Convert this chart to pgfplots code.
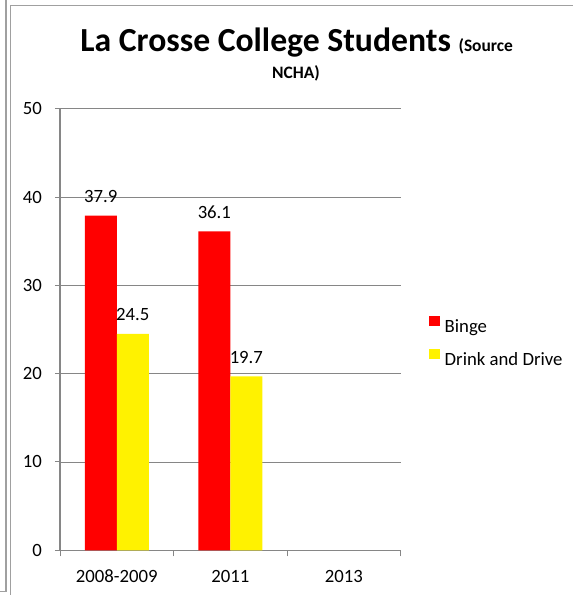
\documentclass[border=0pt]{standalone}
\usepackage{fontspec}
\setmainfont{Carlito}
\usepackage{pgfplots}
\pgfplotsset{compat=1.18}
\definecolor{axisgray}{HTML}{868686}
\definecolor{framegray}{HTML}{A0A0A0}
\newcommand{\bodyfont}{\fontsize{18.8}{22}\selectfont}
\begin{document}
\begin{tikzpicture}[x=1bp,y=1bp]
\useasboundingbox (0,0) rectangle (573,595);
\draw[framegray, line width=1.8bp] (6,596) -- (6,3.5) -- (-1,3.5);
\draw[framegray, line width=1.8bp] (10.5,-1) -- (10.5,589.5) -- (574,589.5);
\node[anchor=base, inner sep=0pt] at (296.7,543.3) {\fontsize{33.8}{40}\selectfont\bfseries La Crosse College Students \fontsize{17.5}{20}\selectfont (Source};
\node[anchor=base, inner sep=0pt] at (296,516.7) {\fontsize{17.5}{20}\selectfont\bfseries NCHA)};
\begin{axis}[
  at={(60bp,44.7bp)}, anchor=south west,
  scale only axis, width=340.7bp, height=441.6bp,
  xmin=-0.5, xmax=2.5, ymin=0, ymax=50,
  ytick={0,10,...,50},
  xtick={0,1,2}, xticklabels={2008-2009,2011,2013},
  minor xtick={-0.5,0.5,1.5,2.5},
  axis x line*=bottom, axis y line*=left,
  axis line style={draw=axisgray, line width=1.2bp, -},
  ymajorgrids, grid style={draw=axisgray, line width=0.9bp},
  tick align=outside,
  major tick length=5bp, minor tick length=6bp,
  tick style={draw=axisgray, line width=1bp},
  major x tick style={draw=none},
  /pgf/number format/assume math mode=true,
  tick label style={font=\bodyfont, text=black},
  xticklabel style={anchor=base, yshift=-27.5bp},
  yticklabel style={anchor=east, inner sep=0pt, xshift=-13bp},
  ybar=0pt, bar width=32bp,
  clip=false,
  nodes near coords={\pgfmathprintnumber[fixed,precision=1,fixed zerofill]{\pgfplotspointmeta}},
  nodes near coords style={font=\bodyfont, anchor=base, inner sep=0pt, yshift=13bp, text=black},
  legend style={draw=none, fill=none, inner sep=0pt, outer sep=0pt,
    at={(1.084,0.4155)}, anchor=south west, font=\bodyfont,
    row sep=15.5bp, column sep=5bp, nodes={inner sep=0pt}},
  legend cell align=left,
]
\addplot[fill=red, draw=none,
  legend image code/.code={\fill[red] (0bp,0.5bp) rectangle (10.4bp,10.4bp);}]
  coordinates {(0,37.9) (1,36.1)};
\addplot[fill=yellow, draw=none,
  legend image code/.code={\fill[yellow] (0bp,0.5bp) rectangle (10.4bp,10.4bp);}]
  coordinates {(0,24.5) (1,19.7)};
\legend{Binge, Drink and Drive}
\end{axis}
\end{tikzpicture}
\end{document}
